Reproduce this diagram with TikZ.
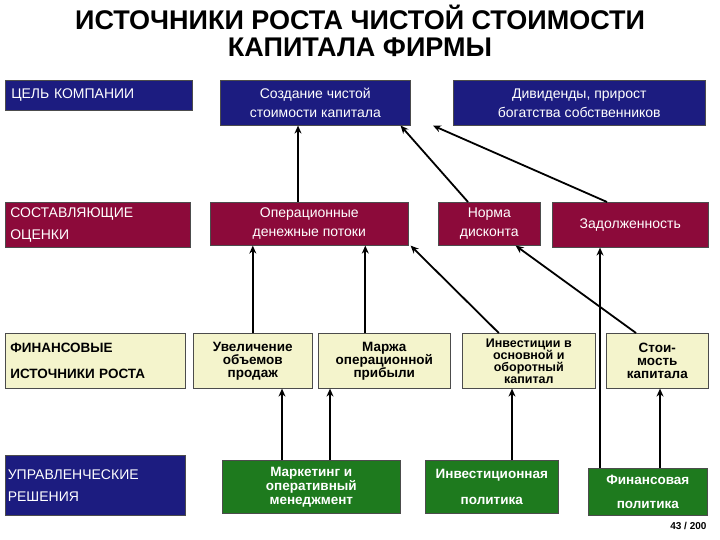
\documentclass[tikz,border=0pt]{standalone}
\usepackage{fontspec}
\setmainfont{Liberation Sans}
\usetikzlibrary{arrows.meta}
\definecolor{navy}{HTML}{1C1C80}
\definecolor{maroon}{HTML}{8C0A3A}
\definecolor{paleY}{HTML}{F4F4CC}
\definecolor{grn}{HTML}{1E7A1E}
\begin{document}
\begin{tikzpicture}[x=1pt,y=-1pt,
  bx/.style={draw=black!70,line width=0.6pt,inner sep=1pt,align=center,font=\fontsize{14}{19}\selectfont},
  nv/.style={bx,fill=navy,text=white},
  mr/.style={bx,fill=maroon,text=white},
  yl/.style={bx,fill=paleY,text=black,font=\bfseries\fontsize{13.5}{13}\selectfont},
  gr/.style={bx,fill=grn,text=white,font=\bfseries\fontsize{13.5}{14}\selectfont},
  lft/.style={align=left,text width=170pt},
  ar/.style={-{Stealth[length=8pt,width=7pt]},line width=1.8pt}]
\useasboundingbox (0,0) rectangle (720,540);
\node[align=center,font=\bfseries\fontsize{27}{27}\selectfont] (title) at (360,31) {ИСТОЧНИКИ РОСТА ЧИСТОЙ СТОИМОСТИ\\КАПИТАЛА ФИРМЫ};
\newcommand{\bxat}[6]{\node[#1,minimum width=#4-#2,minimum height=#5-#3,anchor=north west] (#6) at (#2,#3)}
\bxat{nv,lft,text width=175pt}{5}{80}{192}{110}{goal} {ЦЕЛЬ КОМПАНИИ};
\bxat{nv}{220}{80}{410}{125}{create} {Создание чистой\\стоимости капитала};
\bxat{nv}{453}{80}{705}{125}{div} {Дивиденды, прирост\\богатства собственников};
\bxat{mr,lft,text width=175pt,font=\fontsize{14}{22}\selectfont}{5}{202}{190}{247}{comp} {СОСТАВЛЯЮЩИЕ\\ОЦЕНКИ};
\bxat{mr}{210}{202}{408}{245}{oper} {Операционные\\денежные потоки};
\bxat{mr}{438}{202}{540}{245}{norm} {Норма\\дисконта};
\bxat{mr}{552}{202}{708}{247}{debt} {Задолженность};
\bxat{yl,lft,text width=170pt,font=\bfseries\fontsize{13.5}{26}\selectfont}{5}{333}{185}{388}{fin} {ФИНАНСОВЫЕ\\ИСТОЧНИКИ РОСТА};
\bxat{yl}{193}{333}{312}{388}{sales} {Увеличение\\объемов\\продаж};
\bxat{yl}{318}{333}{450}{388}{marg} {Маржа\\операционной\\прибыли};
\bxat{yl,font=\bfseries\fontsize{12.5}{12}\selectfont}{462}{333}{595}{388}{inv} {Инвестиции в\\основной и\\оборотный\\капитал};
\bxat{yl}{606}{333}{708}{388}{cost} {Стои-\\мость\\капитала};
\bxat{nv,lft,text width=175pt,font=\fontsize{14}{22}\selectfont}{5}{455}{185}{515}{mgmt} {УПРАВЛЕНЧЕСКИЕ\\РЕШЕНИЯ};
\bxat{gr}{222}{460}{400}{513}{mkt} {Маркетинг и\\оперативный\\менеджмент};
\bxat{gr,font=\bfseries\fontsize{13.5}{26}\selectfont}{425}{460}{558}{513}{ipol} {Инвестиционная\\политика};
\bxat{gr,font=\bfseries\fontsize{13.5}{24}\selectfont}{588}{468}{707}{515}{fpol} {Финансовая\\политика};
\node[font=\bfseries\fontsize{10}{10}\selectfont,anchor=east] (pg) at (710,526) {43 / 200};
% arrows
\draw[ar] ([xshift=88pt]oper.north west) -- ([xshift=78pt]create.south west);
\draw[ar] ([xshift=30pt]norm.north west) -- ([xshift=-10pt]create.south east);
\draw[ar] ([xshift=55pt]debt.north west) -- ([xshift=-20pt]div.south west);
\draw[ar] (sales.north) -- (sales.north |- oper.south);
\draw[ar] ([xshift=-19pt]marg.north) -- ([xshift=-19pt]marg.north |- oper.south);
\draw[ar] ([xshift=-30pt]inv.north) -- ([xshift=2pt]oper.south east);
\draw[ar] ([xshift=30pt]cost.north west) -- ([xshift=-25pt]norm.south east);
\draw[ar] ([xshift=12pt]fpol.north west) -- ([xshift=12pt]fpol.north west |- debt.south);
\draw[ar] ([xshift=60pt]mkt.north west) -- ([xshift=60pt]mkt.north west |- sales.south);
\draw[ar] ([xshift=108pt]mkt.north west) -- ([xshift=108pt]mkt.north west |- marg.south);
\draw[ar] ([xshift=87pt]ipol.north west) -- ([xshift=87pt]ipol.north west |- inv.south);
\draw[ar] ([xshift=72pt]fpol.north west) -- ([xshift=72pt]fpol.north west |- cost.south);
\end{tikzpicture}
\end{document}
